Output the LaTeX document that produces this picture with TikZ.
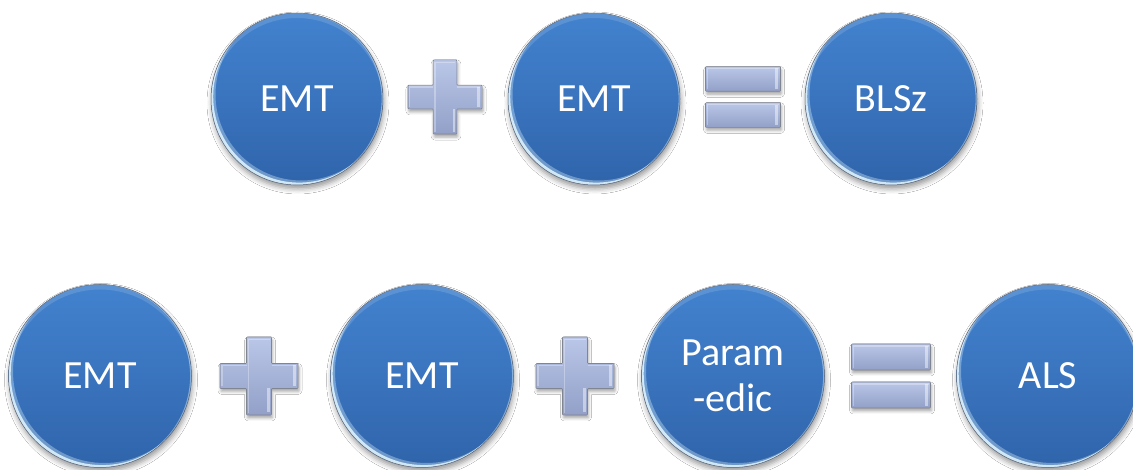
\documentclass[tikz,border=0pt]{standalone}
\usepackage{fontspec}
\setmainfont{Carlito}
\usetikzlibrary{shadows.blur}

\definecolor{ballTop}{RGB}{66,130,206}
\definecolor{ballMid}{RGB}{58,116,190}
\definecolor{ballBot}{RGB}{47,100,170}
\definecolor{ballEdge}{RGB}{88,96,112}
\definecolor{rimLight}{RGB}{226,246,255}
\definecolor{symTop}{RGB}{186,199,232}
\definecolor{symBot}{RGB}{146,160,200}
\definecolor{symEdge}{RGB}{128,133,146}

\tikzset{
  x=1pt, y=1pt,
  ball/.style={circle, inner sep=0pt, minimum size=#1, text=white,
    font=\fontsize{40}{46}\selectfont, align=center,
    top color=ballTop, bottom color=ballBot, middle color=ballMid,
    draw=ballEdge, line width=0.5pt,
    blur shadow={shadow xshift=1pt, shadow yshift=-4pt,
                 shadow blur radius=5pt, shadow opacity=40},
    path picture={
      % bright rim on the upper part
      \fill[ballTop!55!white, opacity=.3, even odd rule]
        (path picture bounding box.center) circle[radius=#1/2]
        ([yshift=-5pt]path picture bounding box.center) circle[radius=#1/2];
      % thin light line along the right side
      \fill[rimLight, opacity=.45, even odd rule]
        (path picture bounding box.center) circle[radius=#1/2]
        ([xshift=-1.4pt]path picture bounding box.center) circle[radius=#1/2];
      % gloss along the lower left rim
      \fill[rimLight, opacity=.35, even odd rule]
        (path picture bounding box.center) circle[radius=#1/2]
        ([shift={(4.5pt,4.5pt)}]path picture bounding box.center) circle[radius=#1/2];
      \fill[rimLight, opacity=.85, even odd rule]
        (path picture bounding box.center) circle[radius=#1/2]
        ([shift={(2.2pt,2.4pt)}]path picture bounding box.center) circle[radius=#1/2];
    }},
  symbol/.style={top color=symTop, bottom color=symBot,
    draw=symEdge, line width=0.6pt, rounded corners=0.8pt,
    blur shadow={shadow xshift=1pt, shadow yshift=-3pt,
                 shadow blur radius=3pt, shadow opacity=35}},
  bevel/.style={white, opacity=.3, line width=1.2pt},
  endlight/.style={white, opacity=.45},
  plusmark/.pic={
    \path[symbol] (-12.5,39) -- (12.5,39) -- (12.5,12.5) -- (39,12.5)
      -- (39,-12.5) -- (12.5,-12.5) -- (12.5,-39) -- (-12.5,-39)
      -- (-12.5,-12.5) -- (-39,-12.5) -- (-39,12.5) -- (-12.5,12.5) -- cycle;
    \draw[bevel] (-10.5,-37) -- (-10.5,36.5) -- (10.5,36.5);
    \draw[bevel] (-37,-10.5) -- (-37,10.5) -- (-12.5,10.5);
    \draw[bevel] (12.5,10.5) -- (37,10.5);
    \fill[endlight] (34,-10.5) rectangle (36.5,10.5);
    \fill[endlight] (8,-36.5) rectangle (10.5,-12.5);
  },
  equalsmark/.pic={
    \path[symbol] (-39.5,6) rectangle (39.5,32);
    \path[symbol] (-39.5,-32) rectangle (39.5,-6);
    \draw[bevel] (-37.5,8) -- (-37.5,30) -- (37.5,30);
    \draw[bevel] (-37.5,-30) -- (-37.5,-8) -- (37.5,-8);
    \fill[endlight] (34,8) rectangle (36.8,30);
    \fill[endlight] (34,-30) rectangle (36.8,-8);
  },
}

\begin{document}
\begin{tikzpicture}
  \fill[white] (0,0) rectangle (1133,470);
  \useasboundingbox (0,0) rectangle (1133,470);

  % first line: EMT + EMT = BLSz
  \node[ball=172pt] (emtA) at (297,371) {EMT};
  \pic[scale=.95] at (445,373) {plusmark};
  \node[ball=172pt] (emtB) at (594,371) {EMT};
  \pic[scale=.95] at (743,373) {equalsmark};
  \node[ball=172pt] (blsz) at (891,371) {BLSz};

  % second line: EMT + EMT + Param-edic = ALS
  \node[ball=183pt] (emtC) at (100,94) {EMT};
  \pic at (259,94) {plusmark};
  \node[ball=183pt] (emtD) at (422,94) {EMT};
  \pic at (575,94) {plusmark};
  \node[ball=183pt] (param) at (733,94) {Param\\-edic};
  \pic at (891,94) {equalsmark};
  \node[ball=183pt] (als) at (1048,94) {ALS};
\end{tikzpicture}
\end{document}
